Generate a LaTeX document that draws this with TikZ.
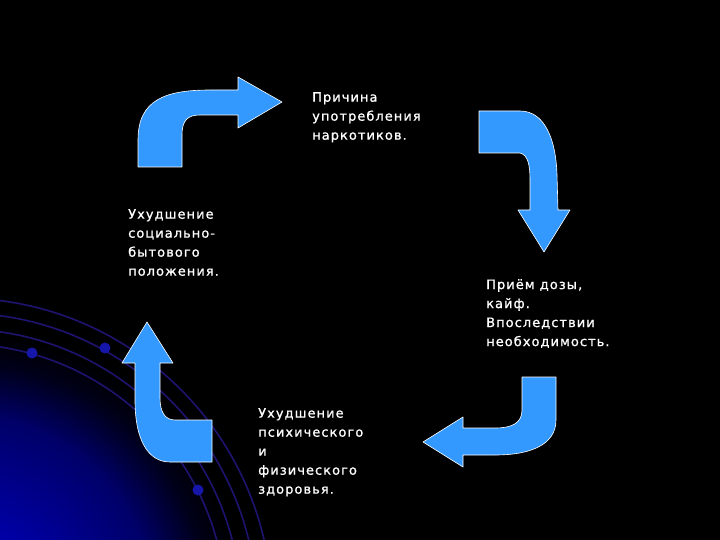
\documentclass[tikz,border=0pt]{standalone}
\usepackage{fontspec}
\usepackage{tikz}
\newfontfamily\slidefont[LetterSpace=8,FakeBold=1]{DejaVu Sans}
\definecolor{arrowblue}{RGB}{51,153,255}
\definecolor{arcblue}{RGB}{30,20,112}
\definecolor{dotblue}{RGB}{22,22,170}
\definecolor{glowa}{RGB}{0,0,190}
\definecolor{glowb}{RGB}{0,0,168}
\definecolor{glowc}{RGB}{0,0,105}
\definecolor{glowd}{RGB}{0,0,25}
\pgfdeclareradialshading{glow}{\pgfpoint{0bp}{0bp}}{color(0bp)=(glowa); color(6.75bp)=(glowb); color(16.2bp)=(glowc); color(20.7bp)=(glowd); color(23.3bp)=(black); color(50bp)=(black)}

\begin{document}
\begin{tikzpicture}[x=1pt,y=-1pt,
  bend arrow/.style={fill=arrowblue,draw=white,line width=0.6pt,line join=round},
  slide text/.style={text=white,align=left,inner sep=0pt,anchor=north west,
    font=\slidefont\fontsize{13}{19}\selectfont}]
  \fill[black] (0,0) rectangle (720,540);
  \begin{scope}
    \clip (0,0) rectangle (720,540);
    \shade[shading=glow] (-40,610) circle (300);
    \foreach \r in {266,281,297,312}
      \draw[arcblue,line width=1.6pt] (-40,610) circle (\r);
    \foreach \p in {(32,353),(105,348),(198,490)}
      \fill[dotblue] \p circle (5.5);
  \end{scope}

  \draw[bend arrow] (138,167) -- (138,140) .. controls (138,100) and (165,90) .. (210,90)
    -- (238,90) -- (238,77) -- (282,102) -- (238,128) -- (238,115) -- (200,115)
    .. controls (188,115) and (182,120) .. (182,135) -- (182,167) -- cycle;
  \draw[bend arrow] (479,111) -- (520,111) .. controls (545,111) and (556,140) .. (557,175)
    -- (558,210) -- (570,210) -- (544,252) -- (518,210) -- (530,210) -- (530,180)
    .. controls (530,165) and (528,155) .. (520,153) -- (479,153) -- cycle;
  \draw[bend arrow] (522,377) -- (556,377) -- (556,420) .. controls (556,445) and (530,455) .. (495,455)
    -- (463,455) -- (463,467) -- (423,442) -- (463,417) -- (463,428) -- (495,428)
    .. controls (512,428) and (522,423) .. (522,410) -- cycle;
  \draw[bend arrow] (147,322) -- (173,363) -- (160,363) -- (160,398) .. controls (160,412) and (165,420) .. (175,420)
    -- (212,420) -- (212,462) -- (170,462) .. controls (148,462) and (135,440) .. (135,400)
    -- (135,363) -- (122,363) -- cycle;

  \node[slide text] (cause) at (312,92) {Причина\\употребления\\наркотиков.};
  \node[slide text] (dose) at (486,279) {Приём дозы,\\кайф.\\Впоследствии\\необходимость.};
  \node[slide text] (health) at (258,408) {Ухудшение\\психического\\и\\физического\\здоровья.};
  \node[slide text] (social) at (128,209) {Ухудшение\\социально-\\бытового\\положения.};
\end{tikzpicture}
\end{document}
